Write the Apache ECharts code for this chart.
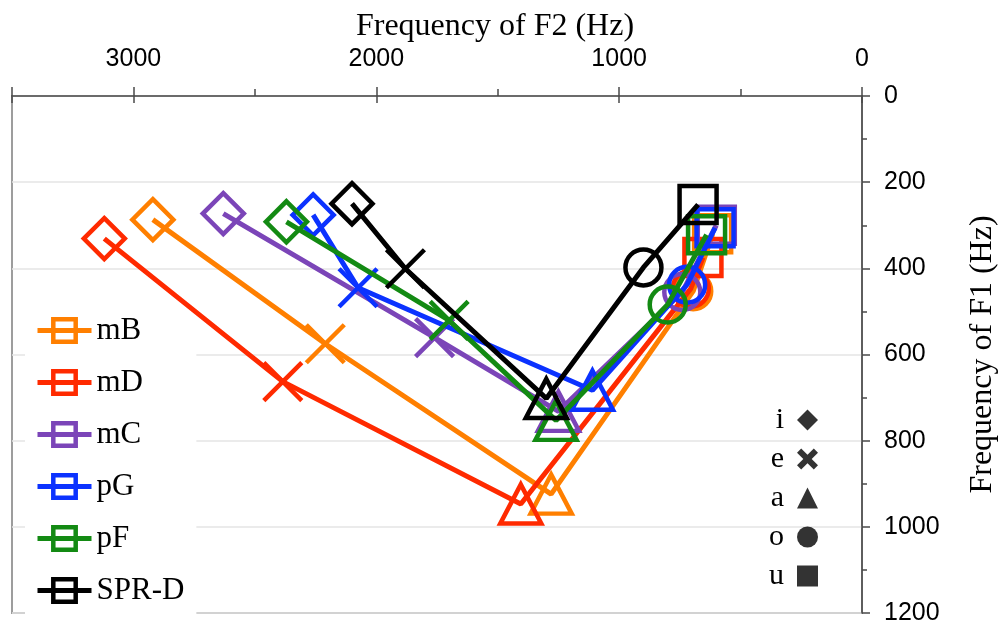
<!DOCTYPE html>
<html>
<head>
<meta charset="utf-8">
<script src="https://cdn.jsdelivr.net/npm/echarts@6/dist/echarts.min.js"></script>
<style>
  html, body { margin: 0; padding: 0; background: #fff; }
  #chart { width: 1001px; height: 628px; }
</style>
</head>
<body>
<div id="chart"></div>
<script>
// Vowel order along each speaker's trajectory
const vowels = ['i', 'e', 'a', 'o', 'u'];
const speakers = ['mB', 'mD', 'mC', 'pG', 'pF', 'SPR-D'];

// Second formant F2 (Hz), one value per vowel
const f2_mB   = [2920, 2210, 1280, 695, 615];
const f2_mD   = [3120, 2385, 1405, 705, 655];
const f2_mC   = [2630, 1760, 1250, 740, 600];
const f2_pG   = [2260, 2075, 1110, 720, 605];
const f2_pF   = [2370, 1700, 1260, 800, 640];
const f2_SPRD = [2100, 1880, 1300, 900, 675];

// First formant F1 (Hz), one value per vowel
const f1_mB   = [287, 575, 924, 453, 320];
const f1_mD   = [331, 663, 947, 447, 375];
const f1_mC   = [273, 561, 732, 455, 300];
const f1_pG   = [276, 445, 683, 438, 306];
const f1_pF   = [292, 521, 753, 484, 322];
const f1_SPRD = [250, 401, 702, 398, 252];

// Axis scales
const f2Axis = { min: 0, max: 3500, interval: 1000 };
const f1Axis = { min: 0, max: 1200, interval: 200 };

const F2 = [f2_mB, f2_mD, f2_mC, f2_pG, f2_pF, f2_SPRD];
const F1 = [f1_mB, f1_mD, f1_mC, f1_pG, f1_pF, f1_SPRD];
const colors = ['#ff7f00', '#ff2a00', '#7b45b8', '#0b32ff', '#138a13', '#000000'];

// Marker shape per vowel
const crossPath = 'path://M0,0L40,40M40,0L0,40';
const boldCross = 'path://M0,4L4,0L10,6L16,0L20,4L14,10L20,16L16,20L10,14L4,20L0,16L6,10Z';
const vowelMarker = {
  i: { symbol: 'diamond', size: 41 },
  e: { symbol: crossPath, size: 38 },
  a: { symbol: 'triangle', size: [41, 39] },
  o: { symbol: 'circle', size: 36 },
  u: { symbol: 'rect', size: 37 }
};
const keyIcons = { i: 'diamond', e: boldCross, a: 'triangle', o: 'circle', u: 'rect' };

const serif = 'Liberation Serif';
const sans = 'Liberation Sans';

const speakerSeries = speakers.map((name, j) => ({
  type: 'line',
  name: name,
  xAxisIndex: 0,
  yAxisIndex: 0,
  symbol: 'rect',
  symbolSize: 22,
  data: vowels.map((v, k) => ({
    value: [F2[j][k], F1[j][k]],
    symbol: vowelMarker[v].symbol,
    symbolSize: vowelMarker[v].size
  })),
  lineStyle: { color: colors[j], width: 5 },
  itemStyle: { color: 'rgba(0,0,0,0)', borderColor: colors[j], borderWidth: 4.5 },
  emphasis: { disabled: true },
  z: 3 + j
}));

// Empty series that only feed the vowel key
const keySeries = vowels.map(v => ({
  type: 'scatter',
  name: v,
  xAxisIndex: 0,
  yAxisIndex: 0,
  data: [],
  itemStyle: { color: '#000' }
}));

const plainNumber = v => String(v);
const tickLabel = { color: '#000', fontFamily: sans, fontSize: 25, formatter: plainNumber };
const axisLine = { lineStyle: { color: '#4a4a4a', width: 1.5 } };

const option = {
  animation: false,
  backgroundColor: '#fff',
  grid: {
    left: 12, right: 139, top: 96, bottom: 15,
    outerBoundsMode: 'none',
    containLabel: false,
    show: true, borderColor: '#9d9d9d', borderWidth: 2,
    backgroundColor: 'rgba(0,0,0,0)'
  },
  xAxis: [
    {
      type: 'value', position: 'top', inverse: true,
      min: f2Axis.min, max: f2Axis.max, interval: f2Axis.interval,
      name: 'Frequency of F2 (Hz)', nameLocation: 'middle', nameGap: 52,
      nameTextStyle: { color: '#000', fontFamily: serif, fontSize: 32, padding: [0, 0, 0, 116] },
      axisLine: axisLine,
      axisTick: { length: 9, lineStyle: { color: '#4a4a4a', width: 1.5 } },
      minorTick: { show: true, splitNumber: 2, length: 7, lineStyle: { color: '#4a4a4a', width: 1.5 } },
      axisLabel: Object.assign({ margin: 24, showMaxLabel: false }, tickLabel),
      splitLine: { show: false }
    },
    {
      type: 'value', position: 'top', inverse: true,
      min: f2Axis.min, max: f2Axis.max, interval: f2Axis.interval,
      axisLine: { show: false },
      axisTick: { inside: true, length: 7, lineStyle: { color: '#4a4a4a', width: 1.5 } },
      axisLabel: { show: false },
      splitLine: { show: false }
    }
  ],
  yAxis: [
    {
      type: 'value', position: 'right', inverse: true,
      min: f1Axis.min, max: f1Axis.max, interval: f1Axis.interval,
      name: 'Frequency of F1 (Hz)', nameLocation: 'middle', nameGap: 105, nameRotate: 90,
      nameTextStyle: { color: '#000', fontFamily: serif, fontSize: 32 },
      axisLine: axisLine,
      axisTick: { length: 8, lineStyle: { color: '#4a4a4a', width: 1.5 } },
      minorTick: { show: true, splitNumber: 2, length: 5, lineStyle: { color: '#4a4a4a', width: 1.5 } },
      axisLabel: Object.assign({ margin: 22 }, tickLabel),
      splitLine: { show: true, lineStyle: { color: '#e4e4e4', width: 1.5 } }
    }
  ],
  legend: [
    {
      data: speakers,
      orient: 'vertical',
      left: 25, top: 312,
      padding: [3, 12, 10, 10],
      backgroundColor: '#fff',
      z: 1,
      itemWidth: 54, itemHeight: 28, itemGap: 21,
      selectedMode: false,
      lineStyle: { width: 5 },
      itemStyle: { borderWidth: 4.5 },
      textStyle: { color: '#000', fontFamily: serif, fontSize: 31, lineHeight: 30 }
    },
    {
      data: vowels.map(v => ({ name: v, icon: keyIcons[v] })),
      orient: 'vertical',
      align: 'right',
      right: 183, top: 405,
      padding: 0,
      itemWidth: 21, itemHeight: 21, itemGap: 9,
      selectedMode: false,
      textStyle: { color: '#000', fontFamily: serif, fontSize: 30, lineHeight: 30, padding: [0, 8, 0, 0] }
    }
  ],
  series: speakerSeries.concat(keySeries)
};

const chart = echarts.init(document.getElementById('chart'), null, { renderer: 'canvas' });
chart.setOption(option);
</script>
</body>
</html>
